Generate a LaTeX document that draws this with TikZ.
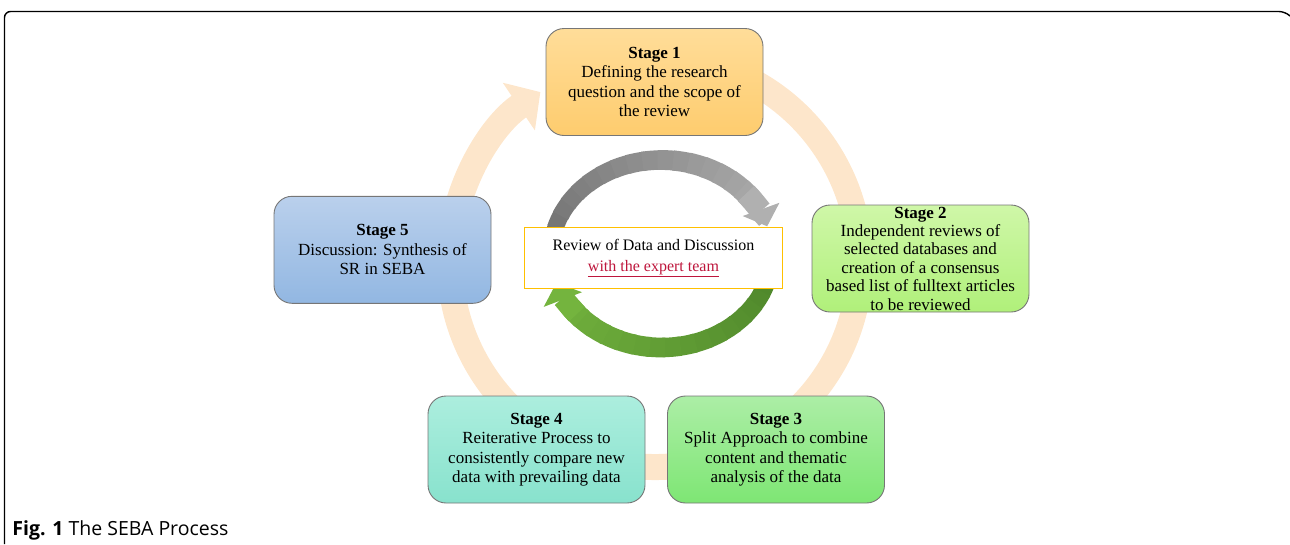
\documentclass[tikz,border=0pt]{standalone}
\usepackage{fontspec}
\setmainfont{Liberation Serif}
\newfontfamily\captionfont{Open Sans}
\usetikzlibrary{arrows.meta}

\definecolor{ringpeach}{RGB}{253,230,203}
\definecolor{boxline}{RGB}{118,118,118}
\definecolor{stageonetop}{RGB}{255,221,153}
\definecolor{stageonebot}{RGB}{254,204,110}
\definecolor{stagetwotop}{RGB}{207,247,168}
\definecolor{stagetwobot}{RGB}{176,240,122}
\definecolor{stagethreetop}{RGB}{172,238,166}
\definecolor{stagethreebot}{RGB}{126,230,116}
\definecolor{stagefourtop}{RGB}{172,238,222}
\definecolor{stagefourbot}{RGB}{136,226,205}
\definecolor{stagefivetop}{RGB}{186,208,236}
\definecolor{stagefivebot}{RGB}{146,183,226}
\definecolor{greyA}{RGB}{112,112,112}
\definecolor{greyB}{RGB}{176,176,176}
\definecolor{greenA}{RGB}{76,132,42}
\definecolor{greenB}{RGB}{116,180,62}
\definecolor{reviewyellow}{RGB}{255,192,0}
\definecolor{linkred}{RGB}{190,22,60}

\tikzset{every picture/.style={line width=0.75pt}}
\tikzset{
  stagebox/.style={draw=boxline, line width=0.9pt, rounded corners=18pt,
    minimum width=217pt, minimum height=107pt, inner xsep=2pt, inner ysep=0pt,
    align=center, font=\fontsize{17pt}{19.5pt}\selectfont},
  reviewbox/.style={draw=reviewyellow, line width=1.6pt, fill=white,
    minimum width=258pt, minimum height=61pt, align=center,
    font=\fontsize{16pt}{21pt}\selectfont},
  cyclering/.style={draw=ringpeach, line width=26pt, -{Triangle[width=56pt,length=26pt]}},
}

\begin{document}
\begin{tikzpicture}[x=1pt,y=1pt,yscale=-1,xscale=1]
\useasboundingbox (0,0) rectangle (1290,544);

%Frame
\draw [line width=1.4pt, rounded corners=6pt] (4.5,544) -- (4.5,11.5) -- (1285,11.5) -- (1290,16);

\coordinate (ringcentre) at (655,262);
\coordinate (inner) at (661.5,253.75);

%Big cycle arrow
\draw [cyclering] (ringcentre) ++(-80:205) arc [start angle=-80, end angle=236, radius=205];

%Stage boxes
\node [stagebox, top color=stageonetop, bottom color=stageonebot] (stage1) at (654.5,82)
  {\textbf{Stage 1}\\Defining the research\\question and the scope of\\the review};
\node [stagebox, top color=stagetwotop, bottom color=stagetwobot, font=\fontsize{17pt}{18.4pt}\selectfont] (stage2) at (920.5,258.5)
  {\textbf{Stage 2}\\Independent reviews of\\selected databases and\\creation of a consensus\\based list of fulltext articles\\to be reviewed};
\node [stagebox, top color=stagethreetop, bottom color=stagethreebot] (stage3) at (776,449.5)
  {\textbf{Stage 3}\\Split Approach to combine\\content and thematic\\analysis of the data};
\node [stagebox, top color=stagefourtop, bottom color=stagefourbot] (stage4) at (536.5,449.5)
  {\textbf{Stage 4}\\Reiterative Process to\\consistently compare new\\data with prevailing data};
\node [stagebox, top color=stagefivetop, bottom color=stagefivebot] (stage5) at (382.5,249.8)
  {\textbf{Stage 5}\\Discussion: Synthesis of\\SR in SEBA};

%Grey curved arrow (top)
\foreach \k in {0,...,17}{
  \pgfmathsetmacro\sa{180+8*\k}
  \pgfmathsetmacro\ea{\sa+9.5}
  \pgfmathtruncatemacro\mx{100-5*\k}
  \pgfmathsetmacro\lw{16+0.35*\k}
  \draw [draw=greyA!\mx!greyB, line width=\lw] (inner) ++(\sa:110.5 and 93.75) arc [start angle=\sa, end angle=\ea, x radius=110.5, y radius=93.75];
}
\draw [draw=greyB, line width=22.5, -{Triangle[width=38pt,length=18pt]}] (inner) ++(320:110.5 and 93.75) arc [start angle=320, end angle=343, x radius=110.5, y radius=93.75];

%Green curved arrow (bottom)
\foreach \k in {0,...,17}{
  \pgfmathsetmacro\sa{8*\k}
  \pgfmathsetmacro\ea{\sa+9.5}
  \pgfmathtruncatemacro\mx{100-5*\k}
  \pgfmathsetmacro\lw{17+0.25*\k}
  \draw [draw=greenA!\mx!greenB, line width=\lw] (inner) ++(\sa:110.5 and 93.75) arc [start angle=\sa, end angle=\ea, x radius=110.5, y radius=93.75];
}
\draw [draw=greenB, line width=21.5, -{Triangle[width=40pt,length=18pt]}] (inner) ++(140:110.5 and 93.75) arc [start angle=140, end angle=162, x radius=110.5, y radius=93.75];

% Text Node
\node [reviewbox] (review) at (653.5,257.8)
  {Review of Data and Discussion\\\textcolor{linkred}{\underline{with the expert team}}};

% Text Node
\node [anchor=base west, inner sep=0pt, font=\captionfont\fontsize{19.5pt}{21pt}\selectfont] (caption) at (12,535)
  {\textbf{Fig. 1} The SEBA Process};

\end{tikzpicture}
\end{document}
